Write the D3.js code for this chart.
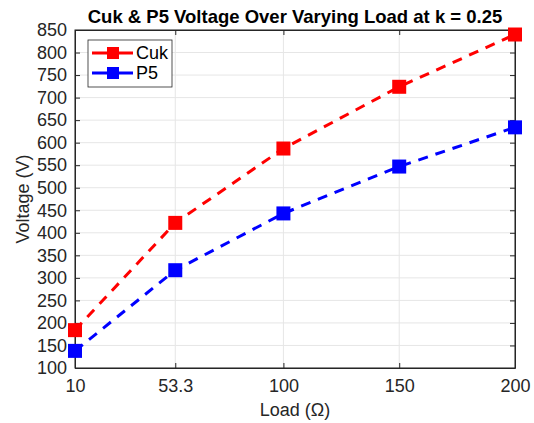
<!DOCTYPE html>
<html lang="en">
<head>
  <meta charset="UTF-8">
  <title>Cuk & P5 Voltage</title>
  <script src="https://d3js.org/d3.v7.min.js"></script>
  <style>
    body { margin: 0; padding: 0; background: #fff; font-family: 'Liberation Sans', Arial, sans-serif; }
    .grid line { stroke: #e6e6e6; stroke-width: 1; }
  </style>
</head>
<body>
  <div id="chart"></div>
  <script>
    // data
    const loads = [10, 53.3, 100, 150, 200];
    const cukV = [184, 422, 587, 724, 840];
    const p5V = [138, 317, 443, 547, 634];
    const xTicks = [10, 53.3, 100, 150, 200];
    const yTicks = d3.range(100, 851, 50);
    const seriesNames = ["Cuk", "P5"];
    const seriesColors = ["#ff0000", "#0000ff"];

    const W = 534, H = 423;
    const margin = { top: 30, right: 19, bottom: 55, left: 75 };
    const width = W - margin.left - margin.right;
    const height = H - margin.top - margin.bottom;

    const svg = d3.select("#chart").append("svg")
      .attr("width", W).attr("height", H);

    const g = svg.append("g")
      .attr("transform", "translate(" + margin.left + "," + margin.top + ")");

    const x = d3.scaleLinear().domain([10, 200]).range([0, width]);
    const y = d3.scaleLinear().domain([100, 850]).range([height, 0]);

    // grid
    g.append("g").attr("class", "grid")
      .selectAll("line").data(xTicks).enter().append("line")
      .attr("x1", d => x(d)).attr("x2", d => x(d))
      .attr("y1", 0).attr("y2", height);
    g.append("g").attr("class", "grid")
      .selectAll("line").data(yTicks).enter().append("line")
      .attr("x1", 0).attr("x2", width)
      .attr("y1", d => y(d)).attr("y2", d => y(d));

    // axes (ticks pointing inward, MATLAB style)
    g.append("g")
      .attr("transform", "translate(0," + height + ")")
      .call(d3.axisBottom(x).tickValues(xTicks).tickFormat(d => d === 53.3 ? "53.3" : d3.format("d")(d))
        .tickSizeInner(-5).tickSizeOuter(0).tickPadding(11));
    g.append("g")
      .call(d3.axisLeft(y).tickValues(yTicks).tickFormat(d3.format("d"))
        .tickSizeInner(-5).tickSizeOuter(0).tickPadding(8));
    g.append("g")
      .attr("transform", "translate(" + width + ",0)")
      .call(d3.axisRight(y).tickValues(yTicks).tickFormat("").tickSizeInner(-5).tickSizeOuter(0));
    g.append("g")
      .call(d3.axisTop(x).tickValues(xTicks).tickFormat("").tickSizeInner(-5).tickSizeOuter(0));

    g.selectAll(".domain").attr("stroke", "#262626");
    g.selectAll(".tick line").attr("stroke", "#262626");
    g.selectAll(".tick text").style("font-size", "18px").style("fill", "#262626")
      .attr("font-family", "'Liberation Sans', Arial, sans-serif");

    // box
    g.append("rect").attr("x", 0).attr("y", 0).attr("width", width).attr("height", height)
      .attr("fill", "none").attr("stroke", "#262626").attr("stroke-width", 1);

    // series
    const allSeries = [cukV, p5V];
    const line = d3.line().x((d, i) => x(loads[i])).y(d => y(d));
    allSeries.forEach((vals, si) => {
      g.append("path").datum(vals)
        .attr("d", line)
        .attr("fill", "none")
        .attr("stroke", seriesColors[si])
        .attr("stroke-width", 3)
        .attr("stroke-dasharray", "10,8");
      g.selectAll(".m" + si).data(vals).enter().append("rect")
        .attr("x", (d, i) => x(loads[i]) - 7)
        .attr("y", d => y(d) - 7)
        .attr("width", 14).attr("height", 14)
        .attr("fill", seriesColors[si]);
    });

    // title
    svg.append("text")
      .attr("x", margin.left + width / 2).attr("y", 23)
      .attr("text-anchor", "middle")
      .style("font-size", "18.5px").style("font-weight", "bold").style("fill", "#000")
      .text("Cuk & P5 Voltage Over Varying Load at k = 0.25");

    // axis labels
    svg.append("text")
      .attr("x", margin.left + width / 2).attr("y", 416)
      .attr("text-anchor", "middle")
      .style("font-size", "18px").style("fill", "#262626")
      .text("Load (\u03A9)");
    svg.append("text")
      .attr("transform", "translate(29," + (margin.top + height / 2) + ") rotate(-90)")
      .attr("text-anchor", "middle")
      .style("font-size", "18px").style("fill", "#262626")
      .text("Voltage (V)");

    // legend
    const lg = g.append("g").attr("transform", "translate(13,10)");
    lg.append("rect").attr("width", 84).attr("height", 47)
      .attr("fill", "#fff").attr("stroke", "#262626").attr("stroke-width", 0.8);
    seriesNames.forEach((name, i) => {
      const ly = 13 + i * 20;
      lg.append("line").attr("x1", 4).attr("x2", 45).attr("y1", ly).attr("y2", ly)
        .attr("stroke", seriesColors[i]).attr("stroke-width", 3);
      lg.append("rect").attr("x", 25 - 6).attr("y", ly - 6).attr("width", 12).attr("height", 12)
        .attr("fill", seriesColors[i]);
      lg.append("text").attr("x", 48).attr("y", ly + 6)
        .style("font-size", "18px").style("fill", "#000").text(name);
    });
  </script>
</body>
</html>
